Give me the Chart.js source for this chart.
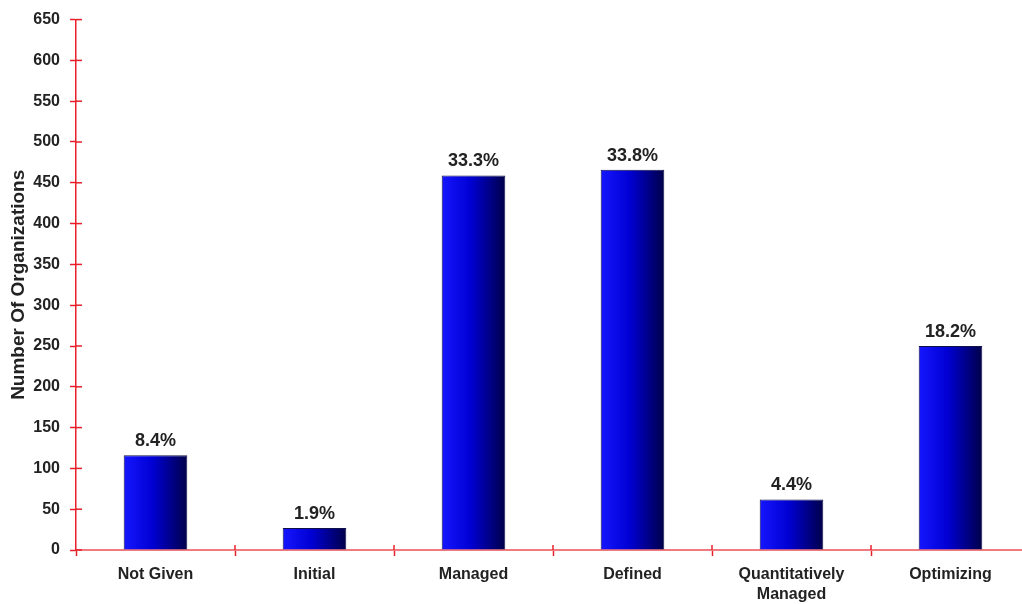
<!DOCTYPE html>
<html>
<head>
<meta charset="utf-8">
<script src="https://cdn.jsdelivr.net/npm/chart.js@4/dist/chart.umd.min.js"></script>
<style>
  html, body { margin: 0; padding: 0; background: #fff; overflow: hidden; }
  #wrap { width: 1040px; height: 604px; }
</style>
</head>
<body>
<div id="wrap"><canvas id="chart" width="1040" height="604"></canvas></div>
<script>
const categories = ['Not Given', 'Initial', 'Managed', 'Defined', ['Quantitatively', 'Managed'], 'Optimizing'];
const orgCounts = [116, 27, 459, 466, 62, 250];
const pctLabels = ['8.4%', '1.9%', '33.3%', '33.8%', '4.4%', '18.2%'];
const yMax = 650;
const yStep = 50;

const textColor = '#222';
const fontFamily = '"Liberation Sans", Arial, sans-serif';
const catPct = 0.5;
const barPct = 0.8;

// left-to-right blue gradient for each bar, placed from the x scale
function barFill(c) {
    const chart = c.chart;
    const xs = chart.scales.x;
    if (c.type !== 'data' || !xs || !chart.chartArea) return '#0000d6';
    const w = (xs.width / categories.length) * catPct * barPct;
    const left = xs.getPixelForValue(c.dataIndex) - w / 2;
    const g = chart.ctx.createLinearGradient(left, 0, left + w, 0);
    g.addColorStop(0, '#1616ff');
    g.addColorStop(0.45, '#0000d4');
    g.addColorStop(1, '#00004a');
    return g;
}

// percentage labels above bars
const pctLabelPlugin = {
    id: 'pctLabels',
    afterDatasetsDraw(chart) {
        const ctx = chart.ctx;
        ctx.save();
        ctx.font = 'bold 18px ' + fontFamily;
        ctx.fillStyle = textColor;
        ctx.textAlign = 'center';
        ctx.textBaseline = 'alphabetic';
        chart.getDatasetMeta(0).data.forEach((bar, i) => {
            ctx.fillText(pctLabels[i], bar.x, bar.y - 9);
        });
        ctx.restore();
    }
};

// tick marks crossing the axes (inner half)
const crossTicks = {
    id: 'crossTicks',
    afterDraw(chart) {
        const ctx = chart.ctx;
        const { x, y } = chart.scales;
        ctx.save();
        ctx.lineWidth = 1.5;
        ctx.strokeStyle = '#e8202a';
        y.ticks.forEach((t, i) => {
            const py = y.getPixelForTick(i);
            ctx.beginPath();
            ctx.moveTo(y.right, py);
            ctx.lineTo(y.right + 6, py);
            ctx.stroke();
        });
        for (let i = 1; i <= categories.length; i++) {
            const px = x.getPixelForValue(i - 0.5);
            ctx.beginPath();
            ctx.moveTo(px, x.top - 5);
            ctx.lineTo(px, x.top);
            ctx.stroke();
        }
        ctx.restore();
    }
};

new Chart(document.getElementById('chart'), {
    type: 'bar',
    data: {
        labels: categories,
        datasets: [{
            data: orgCounts,
            backgroundColor: barFill,
            borderColor: '#10104a',
            borderWidth: 1,
            barPercentage: barPct,
            categoryPercentage: catPct,
        }],
    },
    options: {
        responsive: false,
        animation: false,
        events: [],
        layout: { padding: { left: 0, top: 13, right: 10, bottom: 0 } },
        plugins: {
            legend: { display: false },
            tooltip: { enabled: false },
        },
        scales: {
            x: {
                afterFit: s => { s.height = 54; },
                border: { color: '#f07a80', width: 2 },
                grid: {
                    drawOnChartArea: false,
                    offset: true,
                    tickLength: 6,
                    tickColor: '#e8202a',
                    tickWidth: 1.5,
                },
                ticks: {
                    color: textColor,
                    padding: 9,
                    maxRotation: 0,
                    autoSkip: false,
                    font: { family: fontFamily, size: 16, weight: 'bold', lineHeight: 1.25 },
                },
            },
            y: {
                min: 0,
                max: yMax,
                afterFit: s => { s.width = 76; },
                border: { color: '#e8202a', width: 1.5 },
                grid: {
                    drawOnChartArea: false,
                    tickLength: 6,
                    tickColor: '#e8202a',
                    tickWidth: 1.5,
                },
                ticks: {
                    stepSize: yStep,
                    color: textColor,
                    padding: 10,
                    font: { family: fontFamily, size: 16, weight: 'bold' },
                },
                title: {
                    display: true,
                    text: 'Number Of Organizations',
                    color: textColor,
                    padding: { top: 7, bottom: 0 },
                    font: { family: fontFamily, size: 19, weight: 'bold' },
                },
            },
        },
    },
    plugins: [pctLabelPlugin, crossTicks],
});
</script>
</body>
</html>
